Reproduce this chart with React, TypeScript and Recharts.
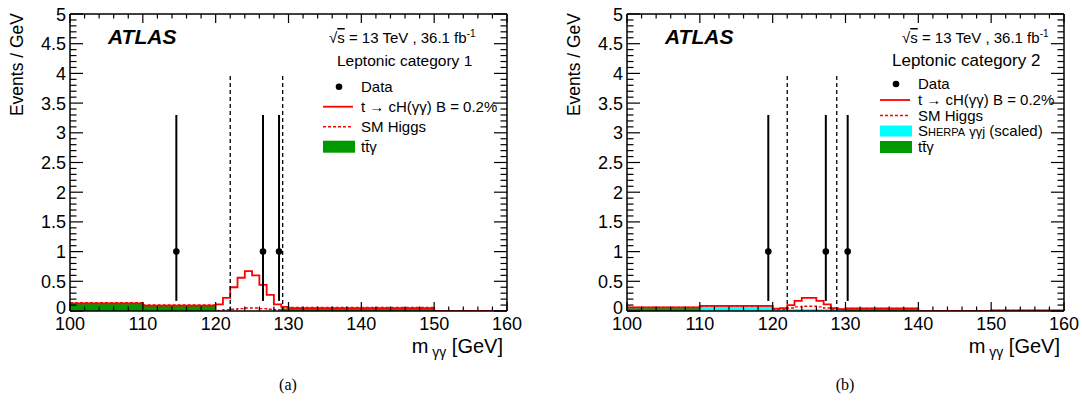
import React from 'react';
import { ComposedChart, XAxis, YAxis, Area, Line, Scatter, ErrorBar, ReferenceLine } from 'recharts';

const FONT = '"Liberation Sans", Arial, Helvetica, sans-serif';
const GREEN = '#009a00';
const CYAN = '#00ffff';
const RED = '#ff0000';

// bin edges: 10 GeV bins outside the window, 1 GeV bins from 120 to 130
const binEdges = [100, 110, 120, 121, 122, 123, 124, 125, 126, 127, 128, 129, 130, 140, 150, 160];

// (a) Leptonic category 1 -- one value per bin
const ttgammaA = [0.13, 0.09, 0, 0, 0, 0, 0, 0, 0, 0, 0, 0.04, 0.05, 0.05, 0];
const smHiggsA = [0.14, 0.1, 0.01, 0.02, 0.03, 0.04, 0.05, 0.05, 0.04, 0.03, 0.02, 0.05, 0.06, 0.06, 0];
const signalA = [0.13, 0.09, 0.11, 0.22, 0.4, 0.56, 0.67, 0.6, 0.44, 0.27, 0.11, 0.07, 0.05, 0.05, 0];
const dataMassA = [114.6, 126.5, 128.7];
const dataEventsA = [1, 1, 1];
const windowA = [122, 129.2];

// (b) Leptonic category 2
const ttgammaB = [0.045, 0.005, 0, 0, 0, 0, 0, 0, 0, 0, 0, 0, 0.04, 0, 0.01];
const sherpaB = [0.005, 0.07, 0.03, 0.03, 0.03, 0.03, 0.03, 0.03, 0.03, 0.03, 0.03, 0.03, 0, 0, 0];
const smHiggsB = [0.06, 0.085, 0.03, 0.03, 0.05, 0.07, 0.08, 0.08, 0.07, 0.05, 0.03, 0.03, 0.045, 0, 0.01];
const signalB = [0.06, 0.085, 0.04, 0.05, 0.1, 0.17, 0.22, 0.22, 0.17, 0.11, 0.05, 0.03, 0.045, 0, 0.01];
const dataMassB = [119.4, 127.3, 130.3];
const dataEventsB = [1, 1, 1];
const windowB = [122, 128.8];

// Poisson interval for one event
const errDown = [0.83, 0.83, 0.83];
const errUp = [2.3, 2.3, 2.3];
const windowTop = 4;

const xTicks = Array.from({ length: 31 }, (_, i) => 100 + 2 * i);
const yTicks = Array.from({ length: 51 }, (_, i) => i / 10);

const histRows = (series: Record<string, number[]>) =>
  binEdges.map((x, i) => {
    const row: any = { x };
    Object.keys(series).forEach((k) => {
      const v = series[k];
      row[k] = v[Math.min(i, v.length - 1)];
    });
    return row;
  });

const points = (mass: number[], events: number[]) =>
  mass.map((x, i) => ({ x, y: events[i], err: [errDown[i], errUp[i]] }));

const XTick = (props: any) => {
  const { x, y, payload, mirror } = props;
  const v = payload.value as number;
  const major = v % 10 === 0;
  const len = major ? 9 : 4.5;
  if (mirror) return <line x1={x} x2={x} y1={y} y2={y + len} stroke="#000" strokeWidth={1.2} />;
  return (
    <g>
      <line x1={x} x2={x} y1={y} y2={y - len} stroke="#000" strokeWidth={1.2} />
      {major && (
        <text x={x} y={y + 19} textAnchor="middle" fontFamily={FONT} fontSize={18} fill="#000">
          {v}
        </text>
      )}
    </g>
  );
};

const YTick = (props: any) => {
  const { x, y, payload, mirror } = props;
  const v = payload.value as number;
  const major = Math.round(v * 10) % 5 === 0;
  const len = major ? 13 : 6.5;
  if (mirror) return <line x1={x} x2={x - len} y1={y} y2={y} stroke="#000" strokeWidth={1.2} />;
  return (
    <g>
      <line x1={x} x2={x + len} y1={y} y2={y} stroke="#000" strokeWidth={1.2} />
      {major && (
        <text x={x - 4} y={y + (v === 0 ? 3 : 6.5)} textAnchor="end" fontFamily={FONT} fontSize={18} fill="#000">
          {v}
        </text>
      )}
    </g>
  );
};

const axisLine = { stroke: '#000', strokeWidth: 1.5 };

interface PanelProps {
  offset: number;
  rows: any[];
  data: any[];
  window: number[];
  sherpa: boolean;
}

const PanelChart = ({ offset, rows, data, window, sherpa }: PanelProps) => (
  <div style={{ position: 'absolute', left: offset, top: 0 }}>
    <ComposedChart width={527} height={340} data={rows} margin={{ top: 13, right: 19, bottom: 0, left: 10 }}>
      <XAxis dataKey="x" type="number" domain={[100, 160]} allowDataOverflow ticks={xTicks} interval={0}
        tickSize={0} tickMargin={0} tick={(p: any) => <XTick {...p} />} height={29} axisLine={axisLine} tickLine={false} />
      <XAxis xAxisId="top" orientation="top" dataKey="x" type="number" domain={[100, 160]} allowDataOverflow ticks={xTicks}
        interval={0} tickSize={0} tickMargin={0} tick={(p: any) => <XTick {...p} mirror />} height={1} axisLine={axisLine} tickLine={false} />
      <YAxis dataKey="y" type="number" domain={[0, 5]} allowDataOverflow ticks={yTicks} interval={0}
        tickSize={0} tickMargin={0} tick={(p: any) => <YTick {...p} />} width={60} axisLine={axisLine} tickLine={false} />
      <YAxis yAxisId="right" orientation="right" type="number" domain={[0, 5]} allowDataOverflow ticks={yTicks} interval={0}
        tickSize={0} tickMargin={0} tick={(p: any) => <YTick {...p} mirror />} width={1} axisLine={axisLine} tickLine={false} />
      {sherpa && (
        <Area dataKey="bkg" type="stepAfter" stroke="none" fill={CYAN} fillOpacity={1} baseValue={0} isAnimationActive={false} />
      )}
      <Area dataKey="tty" type="stepAfter" stroke="none" fill={GREEN} fillOpacity={1} baseValue={0} isAnimationActive={false} />
      <Line dataKey="higgs" type="stepAfter" stroke={RED} strokeWidth={1.4} strokeDasharray="3 2" dot={false} isAnimationActive={false} />
      <Line dataKey="signal" type="stepAfter" stroke={RED} strokeWidth={1.8} dot={false} isAnimationActive={false} />
      {window.map((w) => (
        <ReferenceLine key={w} segment={[{ x: w, y: 0 }, { x: w, y: windowTop }]} stroke="#000" strokeWidth={1.3} strokeDasharray="4 3" />
      ))}
      <Scatter data={data} dataKey="y" fill="#000" isAnimationActive={false}
        shape={(p: any) => <circle cx={p.cx} cy={p.cy} r={3.3} fill="#000" />}>
        <ErrorBar dataKey="err" direction="y" width={0} stroke="#000" strokeWidth={2} isAnimationActive={false} />
      </Scatter>
    </ComposedChart>
  </div>
);

interface OverlayProps {
  offset: number;
  caption: string;
  category: string;
  sqrtX: number;
  lepX: number;
  lepSize: number;
  rowsY: number[];
  sherpa: boolean;
}

const Overlay = ({ offset, caption, category, sqrtX, lepX, lepSize, rowsY, sherpa }: OverlayProps) => {
  const lx = 323;
  const tx = 361;
  const t = { fontFamily: FONT, fontSize: 15, fill: '#000' };
  const r = rowsY;
  return (
    <svg width={541} height={401} style={{ position: 'absolute', left: offset, top: 0, pointerEvents: 'none' }}>
      <text transform="translate(23,13) rotate(-90)" textAnchor="end" fontFamily={FONT} fontSize={17.5} fill="#000">
        Events / GeV
      </text>
      <text x={503} y={353} textAnchor="end" fontFamily={FONT} fontSize={20} fill="#000">
        m<tspan fontSize={14} dy={4}> γγ</tspan><tspan dy={-4}> [GeV]</tspan>
      </text>
      <text x={108} y={44} fontFamily={FONT} fontSize={21} fontWeight="bold" fontStyle="italic" fill="#000">ATLAS</text>
      <text x={sqrtX} y={43} {...t}>
        √<tspan textDecoration="overline">s</tspan> = 13 TeV , 36.1 fb<tspan fontSize={10} dy={-6}>-1</tspan>
      </text>
      <text x={lepX} y={65.5} {...t} fontSize={lepSize}>{category}</text>

      <circle cx={lx + 16} cy={r[0]} r={3.3} fill="#000" />
      <text x={tx} y={r[0] + 5.4} {...t}>Data</text>
      <line x1={lx} x2={lx + 30} y1={r[1]} y2={r[1]} stroke={RED} strokeWidth={1.8} />
      <text x={tx} y={r[1] + 5.4} {...t}>t → cH(γγ) B = 0.2%</text>
      <line x1={lx} x2={lx + 30} y1={r[2]} y2={r[2]} stroke={RED} strokeWidth={1.4} strokeDasharray="3 2" />
      <text x={tx} y={r[2] + 5.4} {...t}>SM Higgs</text>
      {sherpa && (
        <>
          <rect x={lx} y={r[3] - 5.5} width={32} height={11} fill={CYAN} />
          <text x={tx} y={r[3] + 5.4} {...t}>
            S<tspan fontSize={11}>HERPA</tspan> <tspan fontSize={13}>γγj</tspan> (scaled)
          </text>
        </>
      )}
      <rect x={lx} y={r[r.length - 1] - 6} width={32} height={12} fill={GREEN} />
      <text x={tx} y={r[r.length - 1] + 5.4} {...t}>tt̄γ</text>

      <text x={288} y={390} textAnchor="middle" fontFamily='"Liberation Serif", "Times New Roman", serif' fontSize={16} fill="#000">
        {caption}
      </text>
    </svg>
  );
};

export default function App() {
  const rowsA = histRows({ tty: ttgammaA, higgs: smHiggsA, signal: signalA });
  const rowsB = histRows({
    tty: ttgammaB,
    bkg: ttgammaB.map((v, i) => v + sherpaB[i]),
    higgs: smHiggsB,
    signal: signalB,
  });
  return (
    <div style={{ position: 'fixed', left: 0, top: 0, width: 1082, height: 401, background: '#fff' }}>
      <PanelChart offset={0} rows={rowsA} data={points(dataMassA, dataEventsA)} window={windowA} sherpa={false} />
      <PanelChart offset={557} rows={rowsB} data={points(dataMassB, dataEventsB)} window={windowB} sherpa />
      <Overlay offset={0} caption="(a)" category="Leptonic category 1" sqrtX={329} lepX={337} lepSize={15.5}
        rowsY={[86.7, 106.7, 126.7, 146.7]} sherpa={false} />
      <Overlay offset={557} caption="(b)" category="Leptonic category 2" sqrtX={345} lepX={335} lepSize={17}
        rowsY={[84, 100, 115.5, 131, 147]} sherpa />
    </div>
  );
}
